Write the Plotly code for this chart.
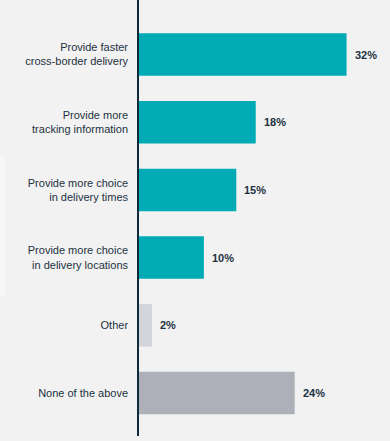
import plotly.graph_objects as go

categories = [
    "Provide faster<br>cross-border delivery",
    "Provide more<br>tracking information",
    "Provide more choice<br>in delivery times",
    "Provide more choice<br>in delivery locations",
    "Other",
    "None of the above",
]
values = [32, 18, 15, 10, 2, 24]
value_labels = ["32%", "18%", "15%", "10%", "2%", "24%"]
bar_colors = ["#00abb5", "#00abb5", "#00abb5", "#00abb5", "#d4d5da", "#adb0b8"]

TEXT = "#22313f"
BG = "#f2f2f2"

fig = go.Figure()
fig.add_trace(go.Bar(
    x=values,
    y=categories,
    orientation="h",
    marker=dict(color=bar_colors, line=dict(width=0)),
    hoverinfo="skip",
))

for v, c, lab in zip(values, categories, value_labels):
    fig.add_annotation(
        x=v, y=c, text="<b>" + lab + "</b>", showarrow=False,
        xanchor="left", yanchor="middle", xshift=6,
        font=dict(family="Liberation Sans, Arial, sans-serif", size=11, color=TEXT),
    )

# faint white card edge at left
fig.add_shape(
    type="path", xref="paper", yref="paper", layer="below",
    path="M -0.58 0.319 L -0.55 0.319 Q -0.535 0.319 -0.535 0.328 L -0.535 0.631 Q -0.535 0.640 -0.55 0.640 L -0.58 0.640 Z",
    fillcolor="#f8f8f8", line=dict(width=0),
)

fig.update_layout(
    width=390, height=441,
    margin=dict(l=139, r=0, t=0, b=5),
    paper_bgcolor=BG, plot_bgcolor=BG,
    bargap=0.372,
    showlegend=False,
    font=dict(family="Liberation Sans, Arial, sans-serif", size=11, color=TEXT),
    xaxis=dict(range=[0, 38.7], visible=False, fixedrange=True),
    yaxis=dict(
        type="category",
        categoryorder="array", categoryarray=categories,
        range=[5.635, -0.805],
        showline=True, linecolor="#0d2b3a", linewidth=1.5,
        showgrid=False, zeroline=False,
        ticks="outside", ticklen=7, tickcolor="rgba(0,0,0,0)",
        tickfont=dict(family="Liberation Sans, Arial, sans-serif", size=11, color=TEXT),
        fixedrange=True,
    ),
)

fig.write_html(
    "out.html",
    config={"displayModeBar": False},
    post_script="document.body.style.margin='0';document.body.style.overflow='hidden';",
)
